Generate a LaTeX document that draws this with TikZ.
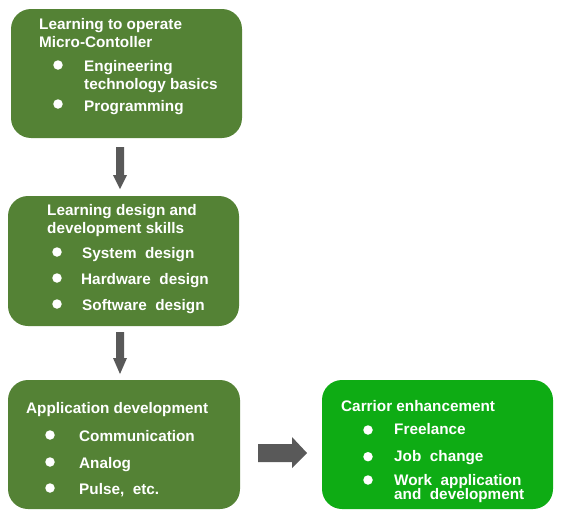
\documentclass[tikz,border=0pt]{standalone}
\usepackage{fontspec}
\setmainfont{Liberation Sans}
\definecolor{dkgreen}{RGB}{84,130,53}
\definecolor{brgreen}{RGB}{14,172,20}
\definecolor{arrgray}{RGB}{89,89,89}
\begin{document}
\begin{tikzpicture}[x=1pt,y=-1pt,
  box/.style={rounded corners=20pt,inner sep=0pt},
  txt/.style={anchor=base west,inner sep=0pt,text=white,font=\bfseries\fontsize{15.3}{17}\selectfont},
  bul/.style={circle,fill=white,inner sep=0pt,minimum size=9.5pt},
  blk/.style={fill=arrgray,draw=none}]
\useasboundingbox (0,0) rectangle (574,525);
% boxes
\fill[dkgreen,rounded corners=20pt] (11,9) rectangle (242,138);
\fill[dkgreen,rounded corners=20pt] (8,196) rectangle (239,326);
\fill[dkgreen,rounded corners=20pt] (8,380) rectangle (240,509);
\fill[brgreen,rounded corners=20pt] (322,380) rectangle (553,509);
\node[box] (b1) at (126.5,73.5) [minimum width=231pt,minimum height=129pt] {};
\node[box] (b2) at (123.5,261) [minimum width=231pt,minimum height=130pt] {};
\node[box] (b3) at (124,444.5) [minimum width=232pt,minimum height=129pt] {};
\node[box] (b4) at (437.5,444.5) [minimum width=231pt,minimum height=129pt] {};
% arrows
\fill[blk] (116,147) -- (124,147) -- (124,175) -- (127,175) -- (120,189) -- (113,175) -- (116,175) -- cycle;
\fill[blk] (116,332) -- (124,332) -- (124,358) -- (127,358) -- (120,374) -- (113,358) -- (116,358) -- cycle;
\fill[blk] (258,444) -- (292,444) -- (292,437) -- (307,453) -- (292,468) -- (292,462) -- (258,462) -- cycle;
% box 1
\node[txt] (t11) at (39,29) {Learning to operate};
\node[txt] (t12) at (39,47) {Micro-Contoller};
\node[bul] (d11) at (58,65) {};
\node[bul] (d12) at (58,104) {};
\node[txt] (t13) at (84,71.5) {Engineering};
\node[txt] (t14) at (84,89.5) {technology basics};
\node[txt] (t15) at (84,111) {Programming};
% box 2
\node[txt] (t21) at (47,215) {Learning design and};
\node[txt] (t22) at (47,233) {development skills};
\node[bul] (d21) at (57,252) {};
\node[bul] (d22) at (57,278) {};
\node[bul] (d23) at (57,304) {};
\node[txt] (t23) at (82,258) {System\ \ design};
\node[txt] (t24) at (81,284) {Hardware\ \ design};
\node[txt] (t25) at (82,310) {Software\ \ design};
% box 3
\node[txt] (t31) at (26,413) {Application development};
\node[bul] (d31) at (50,435) {};
\node[bul] (d32) at (50,462) {};
\node[bul] (d33) at (50,488) {};
\node[txt] (t32) at (79,441) {Communication};
\node[txt] (t33) at (79,468) {Analog};
\node[txt] (t34) at (79,494) {Pulse,\ \ etc.};
% box 4
\node[txt] (t41) at (341,411.7) {Carrior enhancement};
\node[bul] (d41) at (368,430) {};
\node[bul] (d42) at (368,456.7) {};
\node[bul] (d43) at (368,480) {};
\node[txt] (t42) at (394,434.5) {Freelance};
\node[txt] (t43) at (394,461) {Job\ \ change};
\node[txt] (t44) at (394,485.5) {Work\ \ application};
\node[txt] (t45) at (394,499.3) {and\ \ development};
\end{tikzpicture}
\end{document}
